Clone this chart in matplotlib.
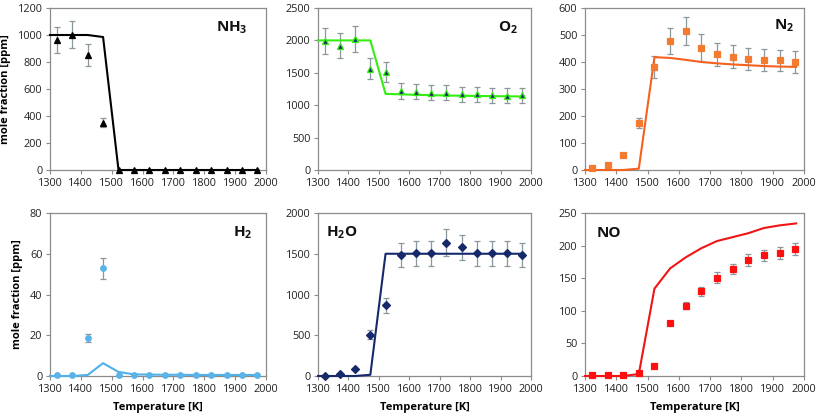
import numpy as np
import matplotlib
matplotlib.use("Agg")
import matplotlib.pyplot as plt

plt.rcParams['font.family'] = ['Open Sans', 'DejaVu Sans']
plt.rcParams['mathtext.fontset'] = 'custom'
plt.rcParams['mathtext.rm'] = 'Open Sans'
plt.rcParams['mathtext.bf'] = 'Open Sans:bold'

# experimental temperatures
T_exp = [1322, 1372, 1422, 1472, 1522, 1572, 1622, 1672, 1722, 1772, 1822, 1872, 1922, 1972]
# model temperatures
T_mod = [1300, 1322, 1372, 1422, 1472, 1522, 1572, 1622, 1672, 1722, 1772, 1822, 1872, 1922, 1975]

nh3_exp = [960, 1000, 855, 350, 0, 0, 0, 0, 0, 0, 0, 0, 0, 0]
nh3_err = [97, 100, 82, 35, 0, 0, 0, 0, 0, 0, 0, 0, 0, 0]
nh3_mod = [1000, 1000, 1000, 1000, 985, 0, 0, 0, 0, 0, 0, 0, 0, 0, 0]

o2_exp = [1996, 1918, 2022, 1564, 1512, 1216, 1211, 1195, 1195, 1170, 1168, 1150, 1145, 1150]
o2_err = [200, 192, 205, 160, 150, 122, 121, 120, 120, 117, 117, 115, 115, 115]
o2_mod = [2000, 2000, 2000, 2000, 2000, 1175, 1168, 1160, 1155, 1150, 1146, 1143, 1140, 1137, 1135]

n2_exp = [9, 20, 55, 174, 381, 477, 514, 453, 429, 420, 410, 406, 406, 401]
n2_err = [0, 0, 0, 19, 41, 49, 51, 49, 43, 43, 40, 41, 40, 40]
n2_mod = [0, 0, 0, 0, 5, 418, 415, 408, 400, 395, 391, 388, 385, 383, 382]

h2_exp = [0.3, 0.3, 18.7, 52.8, 0.3, 0.3, 0.3, 0.3, 0.3, 0.3, 0.3, 0.3, 0.3, 0.3]
h2_err = [0, 0, 1.8, 5.3, 0, 0, 0, 0, 0, 0, 0, 0, 0, 0]
h2_mod = [0, 0, 0, 0.5, 6.3, 2.0, 0.8, 0.7, 0.6, 0.6, 0.5, 0.5, 0.5, 0.5, 0.5]

h2o_exp = [4, 20, 82, 507, 866, 1480, 1505, 1505, 1637, 1579, 1505, 1505, 1505, 1480]
h2o_err = [0, 0, 0, 58, 90, 147, 150, 150, 163, 157, 150, 150, 150, 148]
h2o_mod = [0, 0, 0, 0, 15, 1500, 1500, 1500, 1500, 1500, 1500, 1500, 1500, 1500, 1500]

no_exp = [1, 2, 2, 4, 16, 81, 108, 130, 151, 164, 178, 185, 189, 195]
no_err = [0, 0, 0, 0, 0, 3, 5, 7, 8, 8, 9, 9, 9, 9]
no_mod = [0, 0, 0, 0, 3, 134, 165, 182, 196, 207, 213, 219, 227, 231, 234]

panels = [
    dict(name=r'NH$_\mathbf{3}$', exp=nh3_exp, err=nh3_err, mod=nh3_mod, ymax=1200, ystep=200,
         lc='#000000', mfc='#000000', mec='#000000', marker='^', ms=4.2,
         box=(50, 266, 8, 170), lab=(0.84, 0.88), ylabel=True, xlabel=False),
    dict(name=r'O$_\mathbf{2}$', exp=o2_exp, err=o2_err, mod=o2_mod, ymax=2500, ystep=500,
         lc='#33ee11', mfc='#1a2a6c', mec='#33ee11', marker='^', ms=4.8,
         box=(318, 531, 8, 170), lab=(0.89, 0.88), ylabel=False, xlabel=False),
    dict(name=r'N$_\mathbf{2}$', exp=n2_exp, err=n2_err, mod=n2_mod, ymax=600, ystep=100,
         lc='#f4621e', mfc='#f47a30', mec='#f47a30', marker='s', ms=4.2,
         box=(585, 804, 8, 170), lab=(0.91, 0.89), ylabel=False, xlabel=False),
    dict(name=r'H$_\mathbf{2}$', exp=h2_exp, err=h2_err, mod=h2_mod, ymax=80, ystep=20,
         lc='#4fb0ea', mfc='#5ab4e8', mec='#5ab4e8', marker='o', ms=4,
         box=(50, 266, 213, 376), lab=(0.89, 0.88), ylabel=True, xlabel=True),
    dict(name=r'H$_\mathbf{2}$O', exp=h2o_exp, err=h2o_err, mod=h2o_mod, ymax=2000, ystep=500,
         lc='#16296b', mfc='#16296b', mec='#16296b', marker='D', ms=4,
         box=(318, 531, 213, 376), lab=(0.11, 0.88), ylabel=False, xlabel=True),
    dict(name='NO', exp=no_exp, err=no_err, mod=no_mod, ymax=250, ystep=50,
         lc='#f01515', mfc='#ff1010', mec='#ff1010', marker='s', ms=5,
         box=(585, 804, 213, 376), lab=(0.11, 0.88), ylabel=False, xlabel=True),
]

W, H = 817, 415
fig = plt.figure(figsize=(W / 100, H / 100), dpi=100)
spine_c = '#8c8c8c'
tick_fs = 7.8

for p in panels:
    l, r, t, b = p['box']
    ax = fig.add_axes([l / W, 1 - b / H, (r - l) / W, (b - t) / H])
    Te = np.array(T_exp)
    ye = np.array(p['exp'], dtype=float)
    er = np.array(p['err'], dtype=float)
    m = er > 0
    ax.errorbar(Te[m], ye[m], yerr=er[m], fmt='none', ecolor='#8a979c',
                elinewidth=0.9, capsize=2, capthick=0.9, zorder=2)
    ax.plot(T_mod, p['mod'], color=p['lc'], lw=1.5, zorder=3, clip_on=False)
    ax.plot(Te, ye, linestyle='none', marker=p['marker'], ms=p['ms'],
            mfc=p['mfc'], mec=p['mec'], mew=0.9, zorder=4, clip_on=False)
    ax.set_xlim(1300, 2000)
    ax.set_ylim(0, p['ymax'])
    ax.set_xticks(np.arange(1300, 2001, 100))
    ax.set_yticks(np.arange(0, p['ymax'] + 1, p['ystep']))
    for s in ax.spines.values():
        s.set_color(spine_c)
        s.set_linewidth(0.9)
    ax.tick_params(direction='out', length=3, width=0.8, color=spine_c,
                   labelsize=tick_fs, pad=2.5, labelcolor='#222222')
    ax.text(p['lab'][0], p['lab'][1], p['name'], transform=ax.transAxes,
            ha='center', va='center', fontsize=11, fontweight='bold', color='#111111')
    if p['ylabel']:
        ax.set_ylabel('mole fraction [ppm]', fontsize=8, fontweight='bold', labelpad=5)
    if p['xlabel']:
        ax.set_xlabel('Temperature [K]', fontsize=8, fontweight='bold', labelpad=5)

fig.savefig('out.png', dpi=100)
